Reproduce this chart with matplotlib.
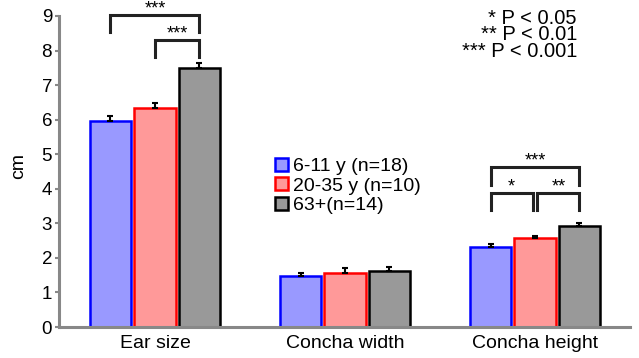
import matplotlib.pyplot as plt
import numpy as np
from matplotlib.patches import Patch

plt.rcParams['font.family'] = ['Liberation Sans', 'DejaVu Sans']

categories = ['Ear size', 'Concha width', 'Concha height']
groups = ['6-11 y (n=18)', '20-35 y (n=10)', '63+(n=14)']
means = [
    [5.97, 1.48, 2.32],   # 6-11 y
    [6.35, 1.57, 2.57],   # 20-35 y
    [7.49, 1.62, 2.93],   # 63+
]
errs = [
    [0.15, 0.07, 0.07],
    [0.12, 0.13, 0.07],
    [0.15, 0.11, 0.08],
]
p_key = ['* P < 0.05', '** P < 0.01', '*** P < 0.001']
fills = ['#9999ff', '#ff9999', '#999999']
edges = ['#0000ff', '#ff0000', '#000000']

fig = plt.figure(figsize=(6.39, 3.58), dpi=100)
ax = fig.add_axes([59/639, 1-327/358, (630-59)/639, (327-16)/358])

x = np.arange(len(categories))
w = 0.22
step = 0.234
for i in range(3):
    xs = x + (i-1)*step
    ax.bar(xs, means[i], w, color=fills[i], edgecolor=edges[i], linewidth=1.8, zorder=2)
    ax.errorbar(xs, means[i], yerr=[np.zeros(3), errs[i]], fmt='none', ecolor='black',
                elinewidth=1.5, capsize=2.5, capthick=1.5, zorder=3)

ax.set_xlim(-0.505, 2.5)
ax.set_ylim(0, 9)
ax.set_yticks(range(10))
ax.set_xticks(x)
ax.set_xticklabels(categories, fontsize=14)
ax.tick_params(axis='y', labelsize=13.5, length=3, width=1.5, color='#888888', pad=2)
ax.tick_params(axis='x', length=0, pad=6)
for s in ['top', 'right']:
    ax.spines[s].set_visible(False)
for s in ['left', 'bottom']:
    ax.spines[s].set_color('#888888')
    ax.spines[s].set_linewidth(2.2)
ax.set_ylabel('cm', fontsize=14)
ax.yaxis.set_label_coords((27-59)/571, (327-166)/311)


def bracket(x1, x2, ytop, ybot, label):
    ax.plot([x1, x1, x2, x2], [ybot, ytop, ytop, ybot], color='#222222', lw=2.2,
            solid_joinstyle='miter', clip_on=False, zorder=4)
    if label:
        ax.text((x1+x2)/2, ytop+0.05, label, ha='center', va='baseline', fontsize=13,
                clip_on=False)


bracket(-step, step, 9.03, 8.54, '***')
bracket(0, step, 8.31, 7.81, '***')
bracket(2-step, 2+step, 4.62, 4.12, '***')
bracket(2-step, 2-0.012, 3.88, 3.39, '*')
bracket(2+0.012, 2+step, 3.88, 3.39, '**')

# significance key, one block with tight line spacing
fig.text(577/639, 1-35/358, '\n'.join(p_key), ha='right', va='center',
         multialignment='right', fontsize=14.5, linespacing=0.82)

handles = [Patch(facecolor=fills[i], edgecolor=edges[i], linewidth=1.8) for i in range(3)]
ax.legend(handles, groups, loc='upper left', bbox_to_anchor=(275/639, 1-158/358),
          bbox_transform=fig.transFigure, frameon=False, fontsize=14,
          handlelength=0.65, handleheight=0.65, handletextpad=0.3, labelspacing=0.1,
          borderpad=0, borderaxespad=0)

fig.savefig('out.png', dpi=100)
